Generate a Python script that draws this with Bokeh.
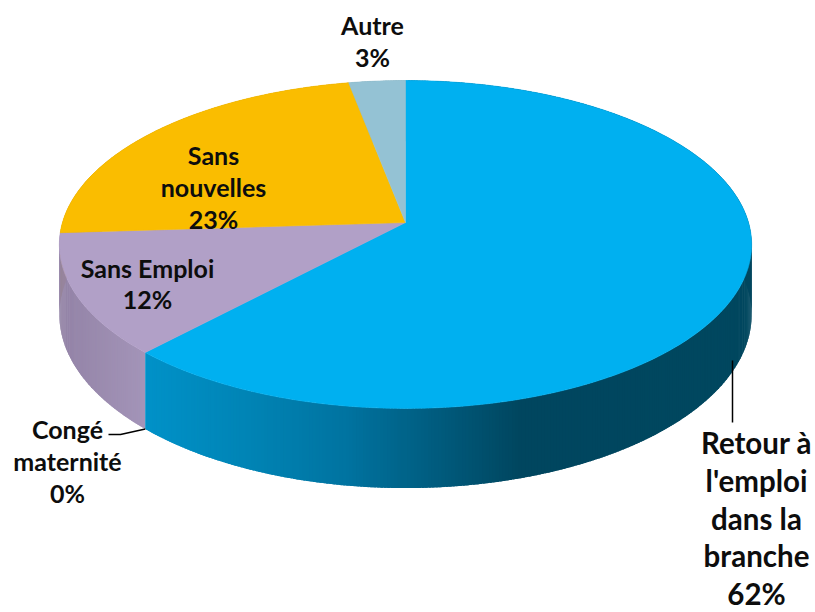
import math
from bokeh.plotting import figure
from bokeh.models import Range1d
from bokeh.embed import file_html
from bokeh.resources import INLINE
from bokeh.core.properties import value

# ---- data ----
categories = ["Retour à l'emploi dans la branche", "Congé maternité", "Sans Emploi", "Sans nouvelles", "Autre"]
values = [62, 0, 12, 23, 3]
top_colors = ["#00B0F0", "#8B7BA0", "#B1A0C7", "#FABD00", "#94C2D4"]
label_lines = [
    ["Retour à", "l'emploi", "dans la", "branche", "62%"],
    ["Congé", "maternité", "0%"],
    ["Sans Emploi", "12%"],
    ["Sans", "nouvelles", "23%"],
    ["Autre", "3%"],
]

# ---- layout / style ----
W, H = 815, 612
CX, CY, A, B, K, D = 405.0, 222.0, 343.0, 161.0, 0.134, 69.0
wall_stops = [
    [(143, "#0092C9"), (250, "#0084B5"), (350, "#0073A0"), (430, "#005D80"), (520, "#00465F"), (760, "#00475F")],
    [(0, "#8B7BA0"), (800, "#8B7BA0")],
    [(55, "#9282A5"), (145, "#A394B8")],
    [(0, "#C89600"), (800, "#C89600")],
    [(0, "#7A9FAE"), (800, "#7A9FAE")],
]
label_pos = [(756, 442, 37.8, 29.5), (67, 428, 32, 25), (147, 267, 31, 25), (213, 154, 32, 25), (372, 24, 32, 25)]
FONT = "Lato"
TXT = "#0D0D0D"


def hex2rgb(h):
    h = h.lstrip("#")
    return tuple(int(h[i:i + 2], 16) for i in (0, 2, 4))


def interp_color(stops, x):
    if x <= stops[0][0]:
        return stops[0][1]
    if x >= stops[-1][0]:
        return stops[-1][1]
    for (x0, c0), (x1, c1) in zip(stops[:-1], stops[1:]):
        if x0 <= x <= x1:
            f = (x - x0) / (x1 - x0) if x1 > x0 else 0
            a, b = hex2rgb(c0), hex2rgb(c1)
            return "#%02x%02x%02x" % tuple(int(round(a[i] + (b[i] - a[i]) * f)) for i in range(3))
    return stops[-1][1]


def proj(theta, h):
    t = math.radians(theta)
    u, v = math.sin(t), -math.cos(t)
    w = 1 - K * v
    return CX + A * u / w, CY + (B * v + D * h) / w, v


p = figure(width=W, height=H, output_backend="svg", toolbar_location=None,
           x_range=Range1d(0, W), y_range=Range1d(H, 0),
           min_border=0, outline_line_color=None)
p.axis.visible = False
p.grid.visible = False
p.background_fill_color = "white"
p.border_fill_color = "white"

total = float(sum(values))
bounds = []
acc = 0.0
for val in values:
    a0 = acc / total * 360.0
    acc += val
    a1 = acc / total * 360.0
    bounds.append((a0, a1))

# walls as thin overlapping strips, back to front
strips = []
step = 0.5
for i, (a0, a1) in enumerate(bounds):
    if a1 - a0 <= 0:
        continue
    n = max(1, int(math.ceil((a1 - a0) / step)))
    for j in range(n):
        t0 = a0 + (a1 - a0) * j / n
        t1 = min(a1, a0 + (a1 - a0) * (j + 1.8) / n)
        tm = a0 + (a1 - a0) * (j + 0.5) / n
        x0, y0, _ = proj(t0, 0)
        x1, y1, _ = proj(t1, 0)
        x2, y2, _ = proj(t1, 1)
        x3, y3, _ = proj(t0, 1)
        xm, _, vm = proj(tm, 0)
        col = interp_color(wall_stops[i], xm)
        strips.append((vm, [x0, x1, x2, x3], [y0, y1, y2, y3], col))
strips.sort(key=lambda s: s[0])
p.patches([s[1] for s in strips], [s[2] for s in strips],
          fill_color=[s[3] for s in strips], line_color=None)

# top faces
xs, ys, cols = [], [], []
for i, (a0, a1) in enumerate(bounds):
    if a1 - a0 <= 0:
        continue
    n = max(2, int(math.ceil((a1 - a0) / 0.5)))
    px, py = [CX], [CY]
    for j in range(n + 1):
        t = a0 + (a1 - a0) * j / n
        x, y, _ = proj(t, 0)
        px.append(x)
        py.append(y)
    xs.append(px)
    ys.append(py)
    cols.append(top_colors[i])
p.patches(xs, ys, fill_color=cols, line_color=cols, line_width=0.6)

# leader lines
ca = bounds[1][0]
bx, by, _ = proj(ca, 1)
p.line([108, 120, bx], [434, 434, by], line_color="black", line_width=1.5)
p.line([732, 732], [360, 422], line_color="black", line_width=1.5)

# labels
for lines, (lx, ly, lh, fs) in zip(label_lines, label_pos):
    for k, s in enumerate(lines):
        p.text(x=[lx], y=[ly + k * lh], text=[s], text_align="center", text_baseline="middle",
               text_font=value(FONT), text_font_style="bold", text_font_size=f"{fs}px",
               text_color=TXT)

open("out.html", "w").write(file_html(p, INLINE))
